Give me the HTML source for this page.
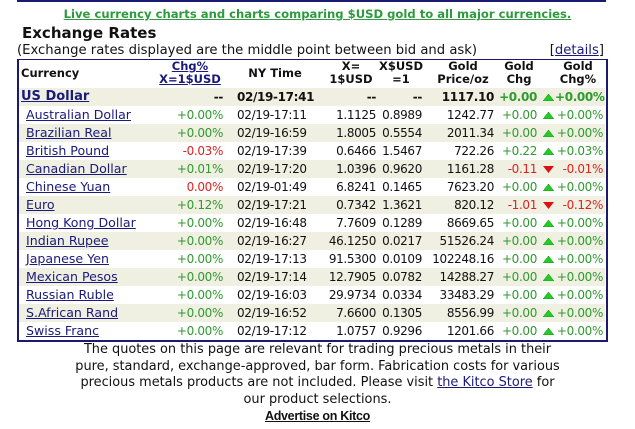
<!DOCTYPE html>
<html><head><meta charset="utf-8"><style>
body{margin:0;width:635px;height:429px;background:#fff;font-family:"DejaVu Sans","Liberation Sans",sans-serif;font-size:12px;color:#111;position:relative;overflow:hidden}
.a{position:absolute;white-space:nowrap}
a{color:#1a1a7a}
.g{color:#2f9a2f}.r{color:#dd2222}
.row{position:absolute;left:19px;width:586px;height:18px}
.c{position:absolute;top:2px;white-space:nowrap;line-height:14px}
.n{letter-spacing:-0.35px}
.rt{text-align:right}
.th{font-weight:bold;text-align:center;line-height:13px;font-size:11.5px}
</style></head><body>
<div class="a" style="left:17px;top:0;width:589px;height:2px;background:#1a1a6e"></div>
<div class="a" style="left:0;width:635px;top:7px;text-align:center;font-weight:bold;font-size:11.6px"><a style="color:#2e9a3e" href="#">Live currency charts and charts comparing $USD gold to all major currencies.</a></div>
<div class="a" style="left:22px;top:24px;font-weight:bold;font-size:15px">Exchange Rates</div>
<div class="a" style="left:17px;top:43px;font-size:13.2px">(Exchange rates displayed are the middle point between bid and ask)</div>
<div class="a" style="right:31px;top:43px;font-size:13.2px">[<a href="#" style="color:#1a1a7a">details</a>]</div>
<div class="a" style="left:17px;top:59px;width:587px;height:280px;border:1px solid #1a1a6e;border-width:1px 2px 2px 2px"></div>
<div class="a th" style="left:21px;top:67px;text-align:left">Currency</div>
<div class="a th" style="left:150px;top:60px;width:80px"><a href="#" style="color:#1a1a7a">Chg%<br>X=1$USD</a></div>
<div class="a th" style="left:235px;top:67px;width:80px">NY Time</div>
<div class="a th" style="left:326px;top:60px;width:50px">X=<br>1$USD</div>
<div class="a th" style="left:376px;top:60px;width:50px">X$USD<br>=1</div>
<div class="a th" style="left:428px;top:60px;width:70px">Gold<br>Price/oz</div>
<div class="a th" style="left:498px;top:60px;width:42px">Gold<br>Chg</div>
<div class="a th" style="left:548px;top:60px;width:60px">Gold<br>Chg%</div>
<div id="rows"></div>
<div class="a" style="left:0;width:635px;top:342px;text-align:center;line-height:16.6px;font-size:12.9px">The quotes on this page are relevant for trading precious metals in their<br>pure, standard, exchange-approved, bar form. Fabrication costs for various<br>precious metals products are not included. Please visit <a href="#">the Kitco Store</a> for<br>our product selections.<br><a href="#" style="color:#111;font-family:'Liberation Sans',sans-serif;font-weight:bold;font-size:12.5px;letter-spacing:-0.3px">Advertise on Kitco</a></div>
<script>
const currencies=["US Dollar","Australian Dollar","Brazilian Real","British Pound","Canadian Dollar","Chinese Yuan","Euro","Hong Kong Dollar","Indian Rupee","Japanese Yen","Mexican Pesos","Russian Ruble","S.African Rand","Swiss Franc"];
const chgPct=["--","+0.00%","+0.00%","-0.03%","+0.01%","0.00%","+0.12%","+0.00%","+0.00%","+0.00%","+0.00%","+0.00%","+0.00%","+0.00%"];
const nyTime=["02/19-17:41","02/19-17:11","02/19-16:59","02/19-17:39","02/19-17:20","02/19-01:49","02/19-17:21","02/19-16:48","02/19-16:27","02/19-17:13","02/19-17:14","02/19-16:03","02/19-16:52","02/19-17:12"];
const xPerUsd=["--","1.1125","1.8005","0.6466","1.0396","6.8241","0.7342","7.7609","46.1250","91.5300","12.7905","29.9734","7.6600","1.0757"];
const usdPerX=["--","0.8989","0.5554","1.5467","0.9620","0.1465","1.3621","0.1289","0.0217","0.0109","0.0782","0.0334","0.1305","0.9296"];
const goldPrice=["1117.10","1242.77","2011.34","722.26","1161.28","7623.20","820.12","8669.65","51526.24","102248.16","14288.27","33483.29","8556.99","1201.66"];
const goldChg=["+0.00","+0.00","+0.00","+0.22","-0.11","+0.00","-1.01","+0.00","+0.00","+0.00","+0.00","+0.00","+0.00","+0.00"];
const goldChgPct=["+0.00%","+0.00%","+0.00%","+0.03%","-0.01%","+0.00%","-0.12%","+0.00%","+0.00%","+0.00%","+0.00%","+0.00%","+0.00%","+0.00%"];
const host=document.getElementById('rows');
function cell(row,html,left,width,cls,name){
  const d=document.createElement('div');
  d.className='c n '+(cls||'');
  d.style.left=left+'px';
  if(width){d.style.width=width+'px';}
  d.innerHTML=html;
  
  
  row.appendChild(d);
}
currencies.forEach((name,i)=>{
  const row=document.createElement('div');
  row.className='row';
  row.style.top=(88+i*18)+'px';
  row.style.background=(i%2===0)?'#f0f0e2':'#fff';
  
  
  const bold=i===0;
  if(bold) row.style.fontWeight='bold';
  const lnk=document.createElement('a');
  lnk.href='#';lnk.textContent=name;
  lnk.className='c';
  lnk.style.left=(bold?2:7)+'px';
  lnk.style.fontSize=bold?'13px':'12.6px';
  
  
  row.appendChild(lnk);
  const pc=chgPct[i];
  cell(row,pc,120,84,'rt '+(bold?'':(pc.startsWith('+')?'g':'r')),'chg-pct');
  cell(row,nyTime[i],218,null,'','ny-time');
  cell(row,xPerUsd[i],300,57,'rt','x-per-usd');
  cell(row,usdPerX[i],356,47,'rt','usd-per-x');
  cell(row,goldPrice[i],400,75,'rt','gold-price');
  const gc=goldChg[i];
  cell(row,gc,470,48,'rt '+(gc.startsWith('-')?'r':'g'),'gold-chg');
  const up=!goldChgPct[i].startsWith('-');
  const tri=up?'<svg width="11" height="7"><polygon points="0,7 11,7 5.5,0" fill="#22cc22" stroke="#118811" stroke-width="0.5"/></svg>':'<svg width="11" height="7"><polygon points="0,0 11,0 5.5,7" fill="#dd1111"/></svg>';
  cell(row,tri,524,null,'','gold-arrow');
  cell(row,goldChgPct[i],536,48,'rt '+(up?'g':'r'),'gold-chg-pct');
  host.appendChild(row);
});
</script>
</body></html>
